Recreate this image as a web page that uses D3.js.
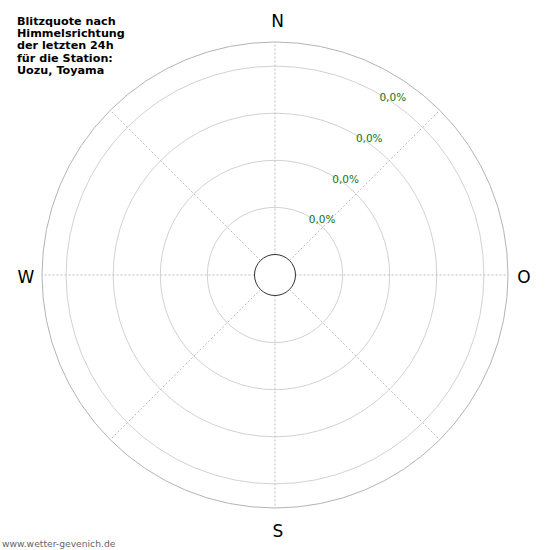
<!DOCTYPE html>
<html>
<head>
<meta charset="utf-8">
<script src="https://cdn.jsdelivr.net/npm/d3@7"></script>
<style>
  body { margin: 0; background: #fff; }
  svg { display: block; font-family: "DejaVu Sans", sans-serif; }
</style>
</head>
<body>
<div id="chart"></div>
<script>
// data
const titleLines = ['Blitzquote nach', 'Himmelsrichtung', 'der letzten 24h', 'für die Station:', 'Uozu, Toyama'];
const directions = ['N', 'O', 'S', 'W'];
const spokeAngles = [0, 45, 90, 135, 180, 225, 270, 315];
const ringValues = [0.0, 0.0, 0.0, 0.0];
const ringLabels = ['0,0%', '0,0%', '0,0%', '0,0%'];
const sectorValues = [0, 0, 0, 0, 0, 0, 0, 0];
const footer = 'www.wetter-gevenich.de';

const width = 550, height = 550;
const cx = 275, cy = 275;
const innerR = 20.5, outerR = 233;

const svg = d3.select('#chart')
  .append('svg')
  .attr('width', width)
  .attr('height', height);

const g = svg.append('g')
  .attr('transform', `translate(${cx},${cy})`);

// ring scale: ring index -> radius
const rScale = d3.scaleLinear()
  .domain([0, ringValues.length])
  .range([innerR, innerR + 47.1 * ringValues.length]);

const angle = d3.scaleLinear().domain([0, 360]).range([0, 2 * Math.PI]);

// outer circle
g.append('circle')
  .attr('r', outerR)
  .attr('fill', 'none')
  .attr('stroke', '#b4b4b4')
  .attr('stroke-width', 1);

// grid rings
g.selectAll('.ring')
  .data(ringValues)
  .join('circle')
  .attr('class', 'ring')
  .attr('r', (d, i) => rScale(i + 1))
  .attr('fill', 'none')
  .attr('stroke', '#d2d2d2')
  .attr('stroke-width', 1);

// spokes
g.selectAll('.spoke')
  .data(spokeAngles)
  .join('line')
  .attr('class', 'spoke')
  .attr('x1', d => innerR * Math.sin(angle(d)))
  .attr('y1', d => -innerR * Math.cos(angle(d)))
  .attr('x2', d => outerR * Math.sin(angle(d)))
  .attr('y2', d => -outerR * Math.cos(angle(d)))
  .attr('stroke', '#bdbdbd')
  .attr('stroke-width', 1)
  .attr('stroke-dasharray', '2,2');

// sectors (all zero here)
const arc = d3.arc()
  .innerRadius(innerR)
  .outerRadius(d => innerR + d.v * (outerR - innerR))
  .startAngle(d => angle(d.a - 22.5))
  .endAngle(d => angle(d.a + 22.5));

g.selectAll('.sector')
  .data(sectorValues.map((v, i) => ({ v: v, a: spokeAngles[i] })).filter(d => d.v > 0))
  .join('path')
  .attr('class', 'sector')
  .attr('d', arc)
  .attr('fill', '#ffcc00');

// center circle
g.append('circle')
  .attr('r', innerR)
  .attr('fill', '#fff')
  .attr('stroke', '#333')
  .attr('stroke-width', 1);

// ring labels at 30 degrees
const labelAngle = angle(30);
g.selectAll('.rlabel')
  .data(ringLabels)
  .join('text')
  .attr('class', 'rlabel')
  .attr('x', (d, i) => rScale(i + 1) * Math.sin(labelAngle))
  .attr('y', (d, i) => -rScale(i + 1) * Math.cos(labelAngle) + 7)
  .attr('font-size', 10.5)
  .attr('fill', '#137313')
  .text(d => d);

// compass labels
const dirPos = {
  N: [277.5, 27],
  O: [524, 283],
  S: [278, 537],
  W: [26, 283]
};
svg.selectAll('.dir')
  .data(directions)
  .join('text')
  .attr('class', 'dir')
  .attr('x', d => dirPos[d][0])
  .attr('y', d => dirPos[d][1])
  .attr('text-anchor', 'middle')
  .attr('font-size', 17)
  .attr('fill', '#000')
  .text(d => d);

// title
svg.append('text')
  .attr('x', 17)
  .attr('y', 24.5)
  .attr('font-size', 11.2)
  .attr('font-weight', 'bold')
  .selectAll('tspan')
  .data(titleLines)
  .join('tspan')
  .attr('x', 17)
  .attr('dy', (d, i) => i === 0 ? 0 : 12.4)
  .text(d => d);

// footer
svg.append('text')
  .attr('x', 2)
  .attr('y', 547)
  .attr('font-size', 9.2)
  .attr('fill', '#666')
  .text(footer);
</script>
</body>
</html>
